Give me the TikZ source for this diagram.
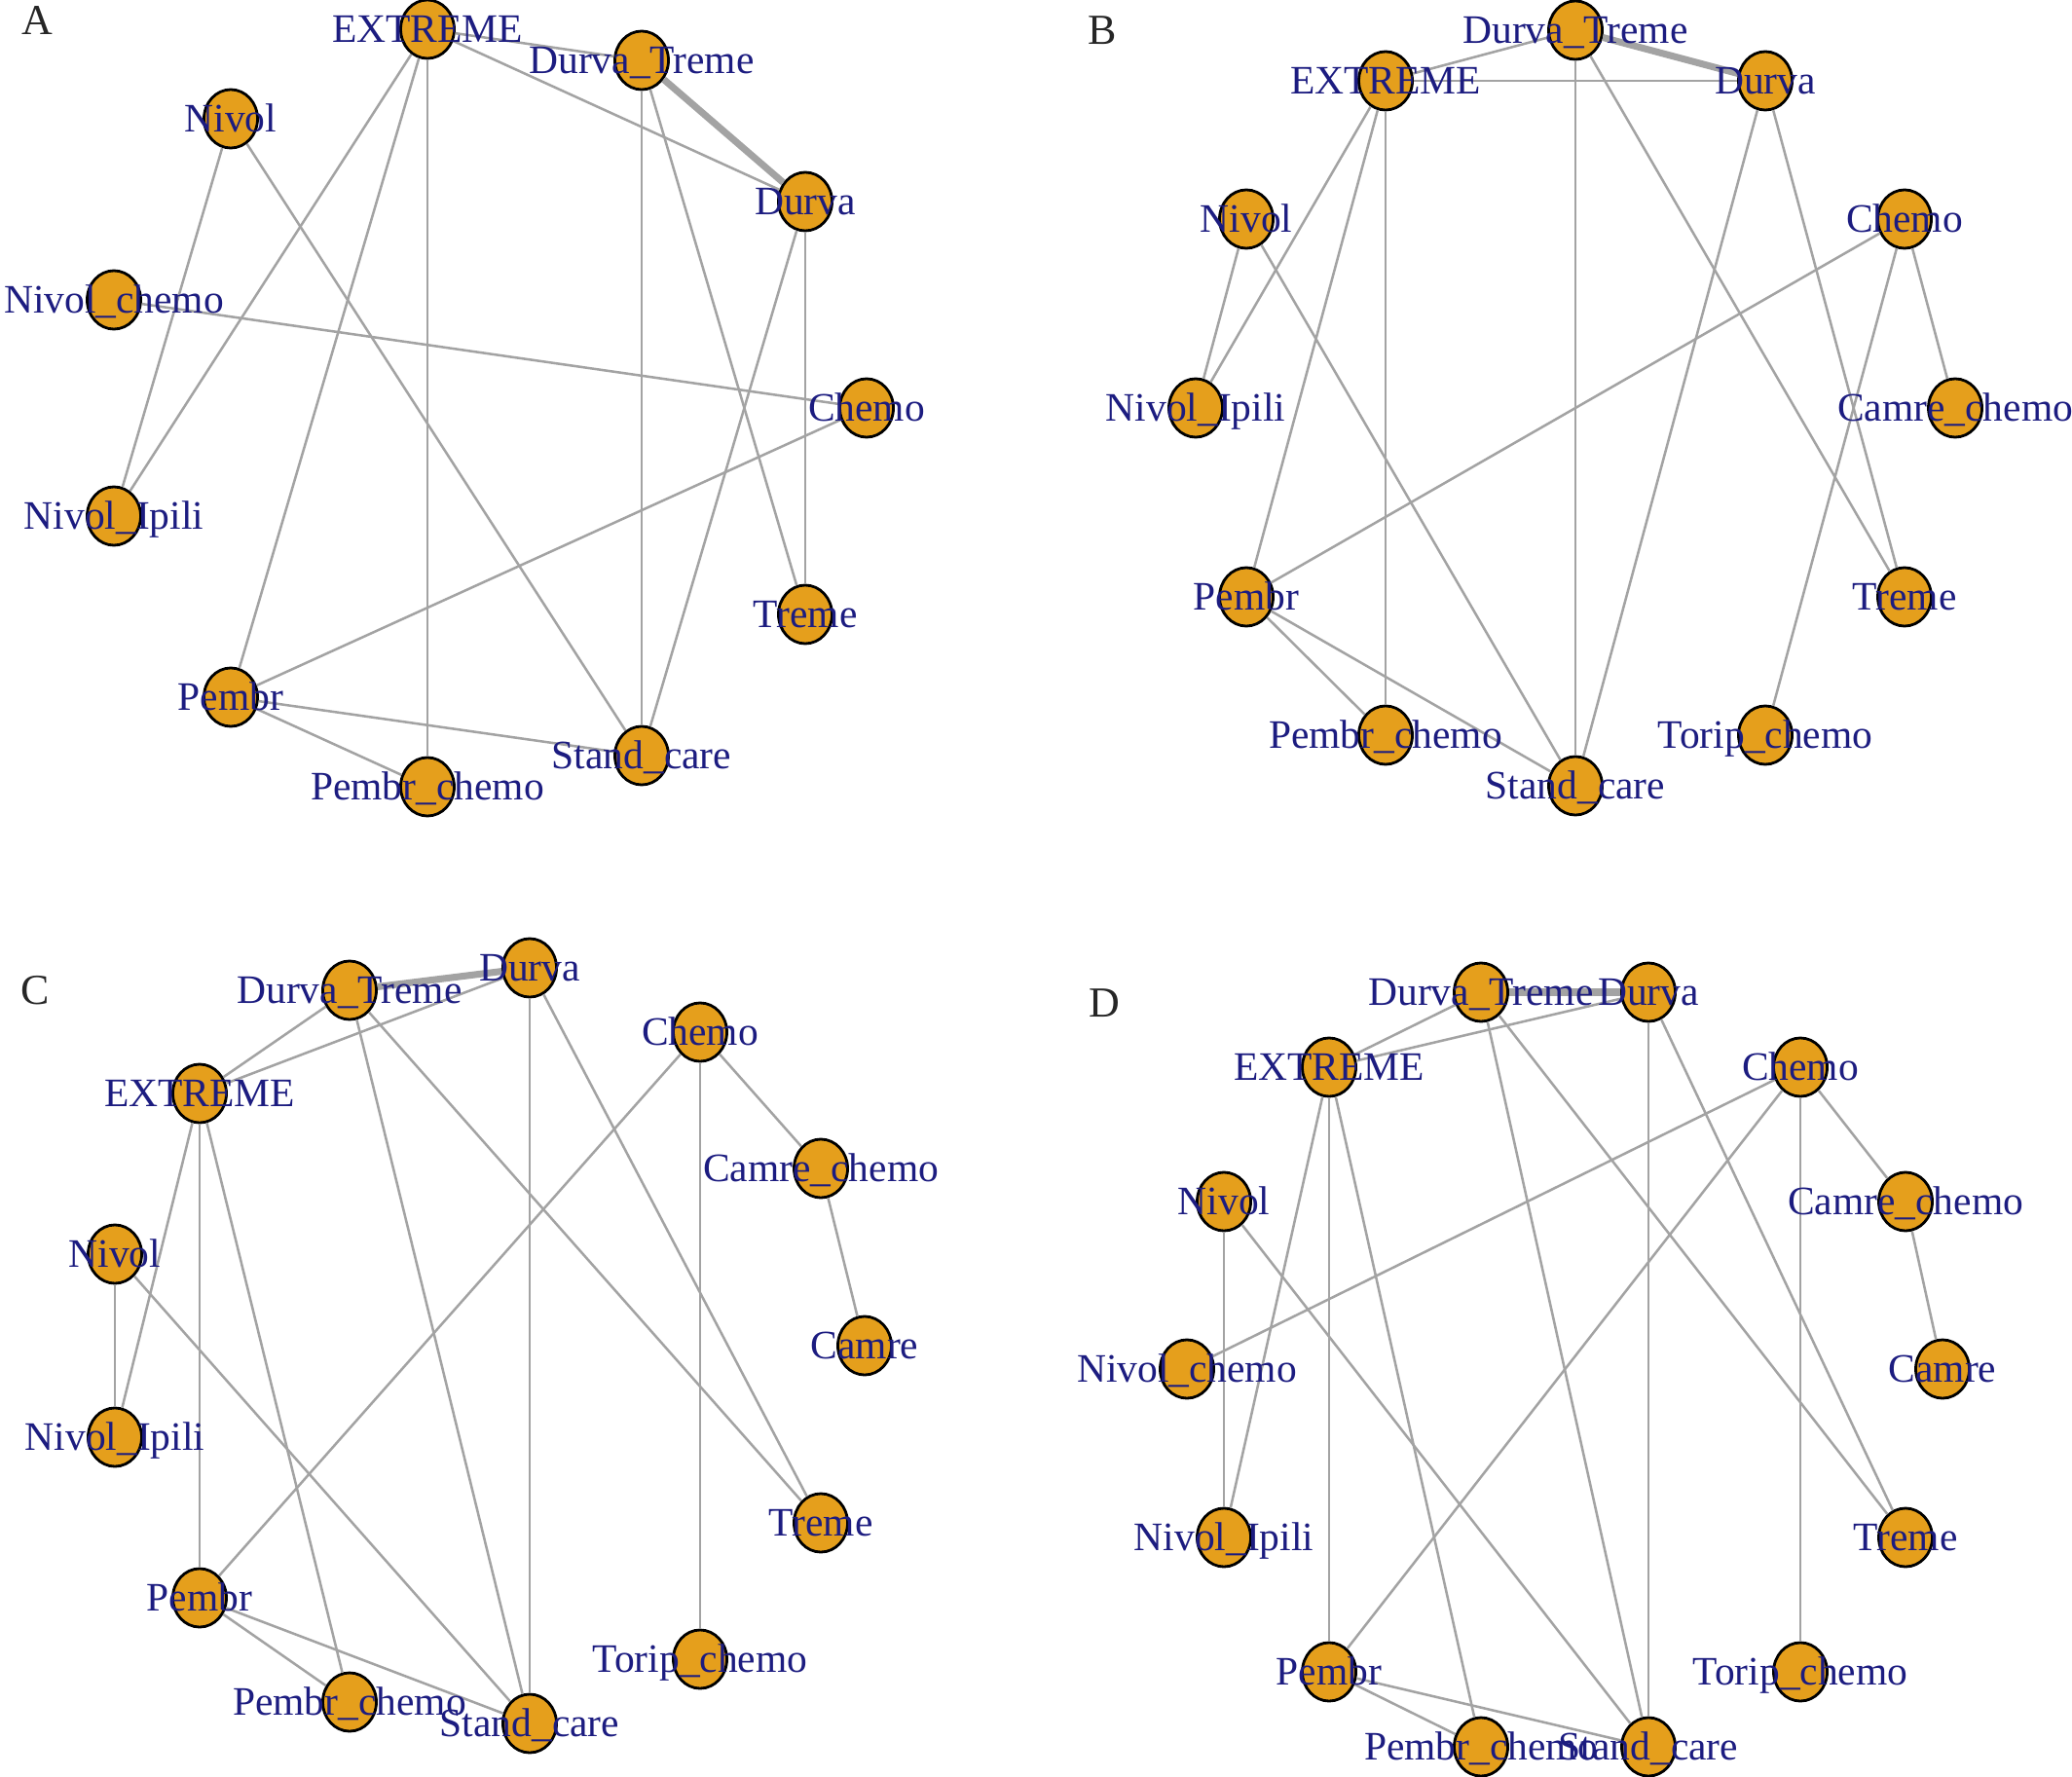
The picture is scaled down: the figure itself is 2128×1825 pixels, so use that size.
\documentclass[tikz,border=0pt]{standalone}
\usepackage{fontspec}
\setmainfont{Liberation Serif}
\usetikzlibrary{shapes.geometric}

\begin{document}
\begin{tikzpicture}[
  x=0.01cm, y=-0.01cm,
  % --- node styles ---
  vtx/.style={ellipse, draw=black, fill=vOrange, line width=0.8pt,
              minimum width=0.55cm, minimum height=0.6cm, inner sep=0pt},
  lbl/.style={anchor=base, yshift=-3.85pt, inner sep=0pt, text=lBlue,
              font=\fontsize{11.8}{14}\selectfont},
  tag/.style={anchor=base, inner sep=0pt, text=black!85,
              font=\fontsize{12.5}{15}\selectfont},
  lnk/.style={draw=eGray, line width=0.72pt},
  lnkw/.style={draw=eGray, line width=2pt},
]
  % --- colours ---
  \definecolor{vOrange}{RGB}{229,159,28}
  \definecolor{lBlue}{RGB}{28,28,128}
  \definecolor{eGray}{RGB}{163,163,163}

  \useasboundingbox (0,0) rectangle (2128,1825);

  % --- panel letters ---
  \node[tag] (tagA) at (38,36)    {A};
  \node[tag] (tagB) at (1132,46)  {B};
  \node[tag] (tagC) at (36,1031)  {C};
  \node[tag] (tagD) at (1134,1044) {D};

  % ================= Panel A =================
  \node[vtx] (a-chemo) at (890,419) {};
  \node[vtx] (a-dur)   at (827,207) {};
  \node[vtx] (a-dt)    at (659,62)  {};
  \node[vtx] (a-ext)   at (439,30)  {};
  \node[vtx] (a-niv)   at (237,122) {};
  \node[vtx] (a-nch)   at (117,308) {};
  \node[vtx] (a-nip)   at (117,530) {};
  \node[vtx] (a-pem)   at (237,716) {};
  \node[vtx] (a-pch)   at (439,808) {};
  \node[vtx] (a-sc)    at (659,776) {};
  \node[vtx] (a-tre)   at (827,631) {};

  \draw[lnkw] (a-dt) -- (a-dur);
  \draw[lnk] (a-ext) -- (a-dt);
  \draw[lnk] (a-ext) -- (a-dur);
  \draw[lnk] (a-dt) -- (a-sc);
  \draw[lnk] (a-dt) -- (a-tre);
  \draw[lnk] (a-dur) -- (a-tre);
  \draw[lnk] (a-dur) -- (a-sc);
  \draw[lnk] (a-ext) -- (a-nip);
  \draw[lnk] (a-ext) -- (a-pem);
  \draw[lnk] (a-ext) -- (a-pch);
  \draw[lnk] (a-niv) -- (a-nip);
  \draw[lnk] (a-niv) -- (a-sc);
  \draw[lnk] (a-nch) -- (a-chemo);
  \draw[lnk] (a-chemo) -- (a-pem);
  \draw[lnk] (a-pem) -- (a-sc);
  \draw[lnk] (a-pem) -- (a-pch);

  \node[lbl] (a-chemo-t) at (a-chemo) {Chemo};
  \node[lbl] (a-dur-t)   at (a-dur)   {Durva};
  \node[lbl] (a-dt-t)    at (a-dt)    {Durva\_Treme};
  \node[lbl] (a-ext-t)   at (a-ext)   {EXTREME};
  \node[lbl] (a-niv-t)   at (a-niv)   {Nivol};
  \node[lbl] (a-nch-t)   at (a-nch)   {Nivol\_chemo};
  \node[lbl] (a-nip-t)   at (a-nip)   {Nivol\_Ipili};
  \node[lbl] (a-pem-t)   at (a-pem)   {Pembr};
  \node[lbl] (a-pch-t)   at (a-pch)   {Pembr\_chemo};
  \node[lbl] (a-sc-t)    at (a-sc)    {Stand\_care};
  \node[lbl] (a-tre-t)   at (a-tre)   {Treme};

  % ================= Panel B =================
  \node[vtx] (b-cch)   at (2008,419) {};
  \node[vtx] (b-chemo) at (1956,225) {};
  \node[vtx] (b-dur)   at (1813,83)  {};
  \node[vtx] (b-dt)    at (1618,31)  {};
  \node[vtx] (b-ext)   at (1423,83)  {};
  \node[vtx] (b-niv)   at (1280,225) {};
  \node[vtx] (b-nip)   at (1228,419) {};
  \node[vtx] (b-pem)   at (1280,613) {};
  \node[vtx] (b-pch)   at (1423,755) {};
  \node[vtx] (b-sc)    at (1618,807) {};
  \node[vtx] (b-tch)   at (1813,755) {};
  \node[vtx] (b-tre)   at (1956,613) {};

  \draw[lnkw] (b-dt) -- (b-dur);
  \draw[lnk] (b-dt) -- (b-ext);
  \draw[lnk] (b-ext) -- (b-dur);
  \draw[lnk] (b-dt) -- (b-sc);
  \draw[lnk] (b-dt) -- (b-tre);
  \draw[lnk] (b-dur) -- (b-sc);
  \draw[lnk] (b-dur) -- (b-tre);
  \draw[lnk] (b-ext) -- (b-nip);
  \draw[lnk] (b-ext) -- (b-pem);
  \draw[lnk] (b-ext) -- (b-pch);
  \draw[lnk] (b-niv) -- (b-nip);
  \draw[lnk] (b-niv) -- (b-sc);
  \draw[lnk] (b-chemo) -- (b-pem);
  \draw[lnk] (b-chemo) -- (b-cch);
  \draw[lnk] (b-chemo) -- (b-tch);
  \draw[lnk] (b-pem) -- (b-pch);
  \draw[lnk] (b-pem) -- (b-sc);

  \node[lbl] (b-cch-t)   at (b-cch)   {Camre\_chemo};
  \node[lbl] (b-chemo-t) at (b-chemo) {Chemo};
  \node[lbl] (b-dur-t)   at (b-dur)   {Durva};
  \node[lbl] (b-dt-t)    at (b-dt)    {Durva\_Treme};
  \node[lbl] (b-ext-t)   at (b-ext)   {EXTREME};
  \node[lbl] (b-niv-t)   at (b-niv)   {Nivol};
  \node[lbl] (b-nip-t)   at (b-nip)   {Nivol\_Ipili};
  \node[lbl] (b-pem-t)   at (b-pem)   {Pembr};
  \node[lbl] (b-pch-t)   at (b-pch)   {Pembr\_chemo};
  \node[lbl] (b-sc-t)    at (b-sc)    {Stand\_care};
  \node[lbl] (b-tch-t)   at (b-tch)   {Torip\_chemo};
  \node[lbl] (b-tre-t)   at (b-tre)   {Treme};

  % ================= Panel C =================
  \node[vtx] (c-cam)   at (888,1382) {};
  \node[vtx] (c-cch)   at (843,1200) {};
  \node[vtx] (c-chemo) at (719,1060) {};
  \node[vtx] (c-dur)   at (544,994)  {};
  \node[vtx] (c-dt)    at (359,1017) {};
  \node[vtx] (c-ext)   at (205,1123) {};
  \node[vtx] (c-niv)   at (118,1288) {};
  \node[vtx] (c-nip)   at (118,1476) {};
  \node[vtx] (c-pem)   at (205,1641) {};
  \node[vtx] (c-pch)   at (359,1748) {};
  \node[vtx] (c-sc)    at (544,1770) {};
  \node[vtx] (c-tch)   at (719,1704) {};
  \node[vtx] (c-tre)   at (843,1564) {};

  \draw[lnkw] (c-dt) -- (c-dur);
  \draw[lnk] (c-dt) -- (c-ext);
  \draw[lnk] (c-dur) -- (c-ext);
  \draw[lnk] (c-dt) -- (c-sc);
  \draw[lnk] (c-dt) -- (c-tre);
  \draw[lnk] (c-dur) -- (c-sc);
  \draw[lnk] (c-dur) -- (c-tre);
  \draw[lnk] (c-chemo) -- (c-cch);
  \draw[lnk] (c-chemo) -- (c-tch);
  \draw[lnk] (c-chemo) -- (c-pem);
  \draw[lnk] (c-cch) -- (c-cam);
  \draw[lnk] (c-ext) -- (c-nip);
  \draw[lnk] (c-ext) -- (c-pem);
  \draw[lnk] (c-ext) -- (c-pch);
  \draw[lnk] (c-niv) -- (c-nip);
  \draw[lnk] (c-niv) -- (c-sc);
  \draw[lnk] (c-pem) -- (c-pch);
  \draw[lnk] (c-pem) -- (c-sc);

  \node[lbl] (c-cam-t)   at (c-cam)   {Camre};
  \node[lbl] (c-cch-t)   at (c-cch)   {Camre\_chemo};
  \node[lbl] (c-chemo-t) at (c-chemo) {Chemo};
  \node[lbl] (c-dur-t)   at (c-dur)   {Durva};
  \node[lbl] (c-dt-t)    at (c-dt)    {Durva\_Treme};
  \node[lbl] (c-ext-t)   at (c-ext)   {EXTREME};
  \node[lbl] (c-niv-t)   at (c-niv)   {Nivol};
  \node[lbl] (c-nip-t)   at (c-nip)   {Nivol\_Ipili};
  \node[lbl] (c-pem-t)   at (c-pem)   {Pembr};
  \node[lbl] (c-pch-t)   at (c-pch)   {Pembr\_chemo};
  \node[lbl] (c-sc-t)    at (c-sc)    {Stand\_care};
  \node[lbl] (c-tch-t)   at (c-tch)   {Torip\_chemo};
  \node[lbl] (c-tre-t)   at (c-tre)   {Treme};

  % ================= Panel D =================
  \node[vtx] (d-cam)   at (1995,1406) {};
  \node[vtx] (d-cch)   at (1957,1234) {};
  \node[vtx] (d-chemo) at (1849,1096) {};
  \node[vtx] (d-dur)   at (1693,1019) {};
  \node[vtx] (d-dt)    at (1521,1019) {};
  \node[vtx] (d-ext)   at (1365,1096) {};
  \node[vtx] (d-niv)   at (1257,1234) {};
  \node[vtx] (d-nch)   at (1219,1406) {};
  \node[vtx] (d-nip)   at (1257,1579) {};
  \node[vtx] (d-pem)   at (1365,1717) {};
  \node[vtx] (d-pch)   at (1521,1794) {};
  \node[vtx] (d-sc)    at (1693,1794) {};
  \node[vtx] (d-tch)   at (1849,1717) {};
  \node[vtx] (d-tre)   at (1957,1579) {};

  \draw[lnkw] (d-dt) -- (d-dur);
  \draw[lnk] (d-dt) -- (d-ext);
  \draw[lnk] (d-dur) -- (d-ext);
  \draw[lnk] (d-dt) -- (d-sc);
  \draw[lnk] (d-dt) -- (d-tre);
  \draw[lnk] (d-dur) -- (d-sc);
  \draw[lnk] (d-dur) -- (d-tre);
  \draw[lnk] (d-chemo) -- (d-nch);
  \draw[lnk] (d-chemo) -- (d-pem);
  \draw[lnk] (d-chemo) -- (d-cch);
  \draw[lnk] (d-chemo) -- (d-tch);
  \draw[lnk] (d-cch) -- (d-cam);
  \draw[lnk] (d-ext) -- (d-nip);
  \draw[lnk] (d-ext) -- (d-pem);
  \draw[lnk] (d-ext) -- (d-pch);
  \draw[lnk] (d-niv) -- (d-nip);
  \draw[lnk] (d-niv) -- (d-sc);
  \draw[lnk] (d-pem) -- (d-pch);
  \draw[lnk] (d-pem) -- (d-sc);

  \node[lbl] (d-cam-t)   at (d-cam)   {Camre};
  \node[lbl] (d-cch-t)   at (d-cch)   {Camre\_chemo};
  \node[lbl] (d-chemo-t) at (d-chemo) {Chemo};
  \node[lbl] (d-dur-t)   at (d-dur)   {Durva};
  \node[lbl] (d-dt-t)    at (d-dt)    {Durva\_Treme};
  \node[lbl] (d-ext-t)   at (d-ext)   {EXTREME};
  \node[lbl] (d-niv-t)   at (d-niv)   {Nivol};
  \node[lbl] (d-nch-t)   at (d-nch)   {Nivol\_chemo};
  \node[lbl] (d-nip-t)   at (d-nip)   {Nivol\_Ipili};
  \node[lbl] (d-pem-t)   at (d-pem)   {Pembr};
  \node[lbl] (d-pch-t)   at (d-pch)   {Pembr\_chemo};
  \node[lbl] (d-sc-t)    at (d-sc)    {Stand\_care};
  \node[lbl] (d-tch-t)   at (d-tch)   {Torip\_chemo};
  \node[lbl] (d-tre-t)   at (d-tre)   {Treme};
\end{tikzpicture}
\end{document}
